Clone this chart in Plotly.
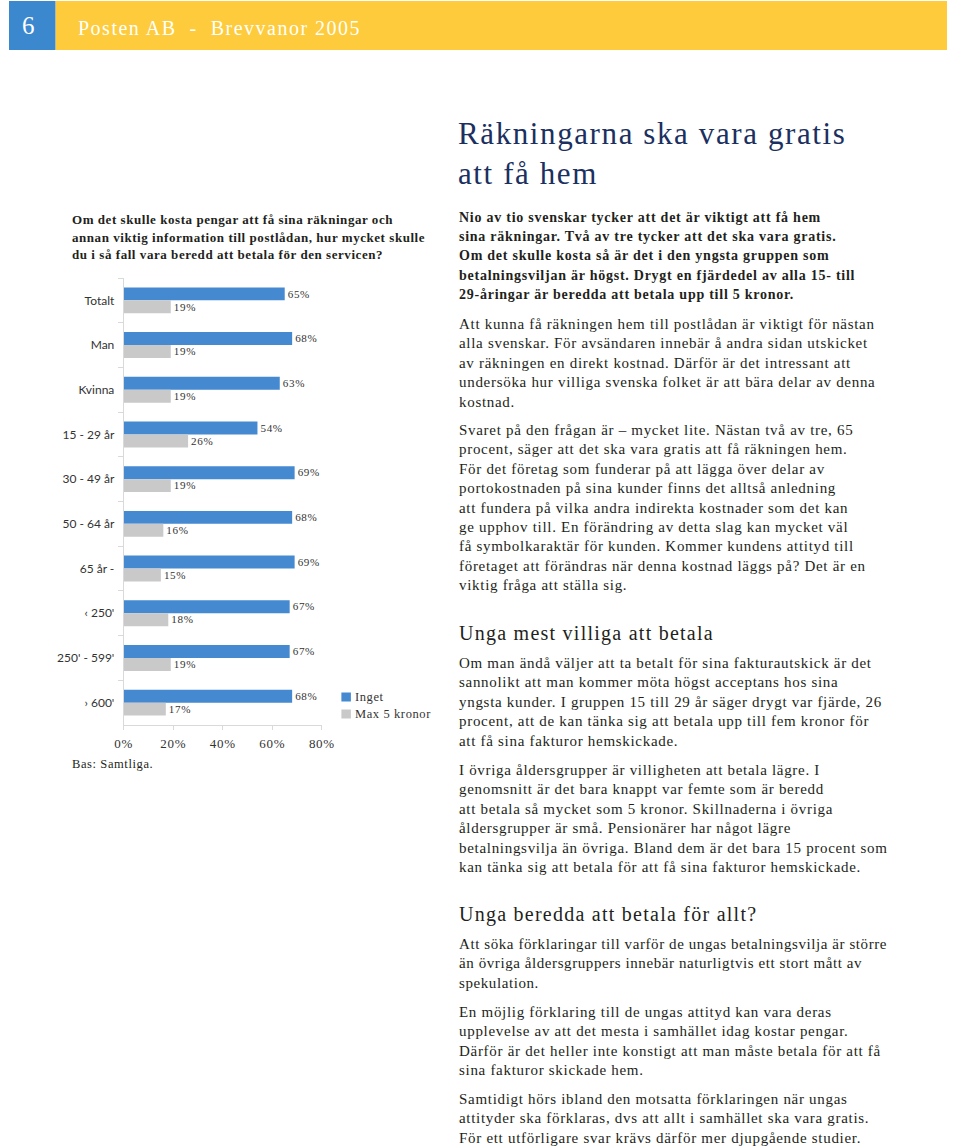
import plotly.graph_objects as go

FW, FH = 960, 1147
# the viewer maps figure x to page x as 9.4 + 0.97625 * x (y is 1:1); positions below are
# page pixels and are converted back so that they land where the reference has them
X_OFF, X_SCALE = 9.4, 0.97625

categories = ["Totalt", "Man", "Kvinna", "15 - 29 år", "30 - 49 år", "50 - 64 år",
              "65 år -", "‹ 250'", "250' - 599'", "› 600'"]
inget = [65, 68, 63, 54, 69, 68, 69, 67, 67, 68]
max5 = [19, 19, 19, 26, 19, 16, 15, 18, 19, 17]
series_names = ["Inget", "Max 5 kronor"]
x_ticks = [0, 20, 40, 60, 80]

question = ["Om det skulle kosta pengar att få sina räkningar och",
            "annan viktig information till postlådan, hur mycket skulle",
            "du i så fall vara beredd att betala för den servicen?"]
p1 = ["Nio av tio svenskar tycker att det är viktigt att få hem",
      "sina räkningar. Två av tre tycker att det ska vara gratis.",
      "Om det skulle kosta så är det i den yngsta gruppen som",
      "betalningsviljan är högst. Drygt en fjärdedel av alla 15- till",
      "29-åringar är beredda att betala upp till 5 kronor."]
p2 = ["Att kunna få räkningen hem till postlådan är viktigt för nästan",
      "alla svenskar. För avsändaren innebär å andra sidan utskicket",
      "av räkningen en direkt kostnad. Därför är det intressant att",
      "undersöka hur villiga svenska folket är att bära delar av denna",
      "kostnad."]
p3 = ["Svaret på den frågan är – mycket lite. Nästan två av tre, 65",
      "procent, säger att det ska vara gratis att få räkningen hem.",
      "För det företag som funderar på att lägga över delar av",
      "portokostnaden på sina kunder finns det alltså anledning",
      "att fundera på vilka andra indirekta kostnader som det kan",
      "ge upphov till. En förändring av detta slag kan mycket väl",
      "få symbolkaraktär för kunden. Kommer kundens attityd till",
      "företaget att förändras när denna kostnad läggs på? Det är en",
      "viktig fråga att ställa sig."]
p4 = ["Om man ändå väljer att ta betalt för sina fakturautskick är det",
      "sannolikt att man kommer möta högst acceptans hos sina",
      "yngsta kunder. I gruppen 15 till 29 år säger drygt var fjärde, 26",
      "procent, att de kan tänka sig att betala upp till fem kronor för",
      "att få sina fakturor hemskickade."]
p5 = ["I övriga åldersgrupper är villigheten att betala lägre. I",
      "genomsnitt är det bara knappt var femte som är beredd",
      "att betala så mycket som 5 kronor. Skillnaderna i övriga",
      "åldersgrupper är små. Pensionärer har något lägre",
      "betalningsvilja än övriga. Bland dem är det bara 15 procent som",
      "kan tänka sig att betala för att få sina fakturor hemskickade."]
p6 = ["Att söka förklaringar till varför de ungas betalningsvilja är större",
      "än övriga åldersgruppers innebär naturligtvis ett stort mått av",
      "spekulation."]
p7 = ["En möjlig förklaring till de ungas attityd kan vara deras",
      "upplevelse av att det mesta i samhället idag kostar pengar.",
      "Därför är det heller inte konstigt att man måste betala för att få",
      "sina fakturor skickade hem."]
p8 = ["Samtidigt hörs ibland den motsatta förklaringen när ungas",
      "attityder ska förklaras, dvs att allt i samhället ska vara gratis.",
      "För ett utförligare svar krävs därför mer djupgående studier."]

BLUE = "#4589d0"
GRAY = "#c9c9c9"
SERIF = "Liberation Serif"
SANS = "Lato"
TXT = "#231f20"


def px(x):
    return max(0.0, (x - X_OFF) / X_SCALE) / FW


def py(y):
    return 1 - y / FH


def ls(t, sp):
    return f'<span style="letter-spacing:{sp}px">{t}</span>'


fig = go.Figure()
fig.add_trace(go.Bar(y=categories, x=inget, orientation="h", name=series_names[0],
                     marker=dict(color=BLUE, line=dict(width=0)),
                     text=[ls(f"{v}%", 0.7) for v in inget], textposition="outside",
                     textfont=dict(family=SERIF, size=12, color="#333333"),
                     cliponaxis=False, showlegend=False))
fig.add_trace(go.Bar(y=categories, x=max5, orientation="h", name=series_names[1],
                     marker=dict(color=GRAY, line=dict(width=0)),
                     text=[ls(f"{v}%", 0.7) for v in max5], textposition="outside",
                     textfont=dict(family=SERIF, size=12, color="#333333"),
                     cliponaxis=False, showlegend=False))

annotations = []
shapes = []

# header
shapes.append(dict(type="rect", xref="paper", yref="paper", x0=0, x1=px(56),
                   y0=py(50), y1=py(1), fillcolor="#3c88cf", line=dict(width=0), layer="below"))
shapes.append(dict(type="rect", xref="paper", yref="paper", x0=px(56), x1=1,
                   y0=py(50), y1=py(1), fillcolor="#fdcb3c", line=dict(width=0), layer="below"))
annotations.append(dict(text="6", x=px(28.5), y=py(25), xref="paper", yref="paper",
                        xanchor="center", yanchor="middle", showarrow=False,
                        font=dict(family=SERIF, size=25, color="white")))
annotations.append(dict(text=ls("Posten AB &nbsp;- &nbsp;Brevvanor 2005", 1.5), x=px(76), y=py(28),
                        xref="paper", yref="paper", xanchor="left", yanchor="middle",
                        showarrow=False, font=dict(family=SERIF, size=20, color="white")))


def add_lines(lines, x0, y0, size, sp, color=TXT, bold=False, step=19.4, family=SERIF):
    for i, ln in enumerate(lines):
        t = f"<b>{ln}</b>" if bold else ln
        annotations.append(dict(text=ls(t, sp), x=px(x0), y=py(y0 + i * step), xref="paper",
                                yref="paper", xanchor="left", yanchor="middle", showarrow=False,
                                font=dict(family=family, size=size, color=color)))


add_lines(["Räkningarna ska vara gratis", "att få hem"], 456, 133, 31, 1.6, color="#1b3060", step=40.5)
add_lines(p1, 457, 217, 14, 0.75, bold=True)
add_lines(p2, 457, 324, 15, 0.7)
add_lines(p3, 457, 430, 15, 0.7)
add_lines(["Unga mest villiga att betala"], 457, 633, 20, 1.25)
add_lines(p4, 457, 663, 15, 0.7)
add_lines(p5, 457, 770, 15, 0.7)
add_lines(["Unga beredda att betala för allt?"], 457, 914, 20, 1.25)
add_lines(p6, 457, 944, 15, 0.58)
add_lines(p7, 457, 1012, 15, 0.7)
add_lines(p8, 457, 1099, 15, 0.7)

add_lines(question, 70, 219, 13, 0.55, bold=True, step=18)
add_lines(["Bas: Samtliga."], 70, 764, 12.5, 0.6)

leg_colors = [BLUE, GRAY]
for i, (nm, c) in enumerate(zip(series_names, leg_colors)):
    yc = 697 + i * 17
    shapes.append(dict(type="rect", xref="paper", yref="paper", x0=px(341.5), x1=px(351),
                       y0=py(yc + 4.5), y1=py(yc - 4.5), fillcolor=c, line=dict(width=0)))
    annotations.append(dict(text=ls(nm, 0.6), x=px(353), y=py(yc), xref="paper", yref="paper",
                            xanchor="left", yanchor="middle", showarrow=False,
                            font=dict(family=SERIF, size=12.5, color="#333333")))

fig.update_layout(
    width=FW, height=FH, autosize=False,
    margin=dict(l=0, r=0, t=0, b=0),
    paper_bgcolor="white", plot_bgcolor="white",
    barmode="group", bargap=0.42, bargroupgap=0,
    showlegend=False,
    xaxis=dict(domain=[px(124), px(322)], range=[0, 80], tickvals=x_ticks,
               ticktext=[ls(f"{v}%", 0.7) for v in x_ticks], showgrid=False, zeroline=False,
               showline=True, linecolor="#d9d9d9", linewidth=1, ticks="outside",
               ticklen=4, tickcolor="#d9d9d9", ticklabelstandoff=2,
               tickfont=dict(family=SERIF, size=13, color="#333333")),
    yaxis=dict(domain=[py(725), py(278)], categoryorder="array", categoryarray=categories,
               autorange="reversed", showgrid=False, zeroline=False, showline=True,
               linecolor="#d9d9d9", linewidth=1, ticks="outside", ticklen=5,
               tickcolor="#d9d9d9", tickson="boundaries", ticklabelstandoff=6,
               tickfont=dict(family=SANS, size=12, color="#333333")),
    annotations=annotations, shapes=shapes,
)

fig.write_html("out.html")
